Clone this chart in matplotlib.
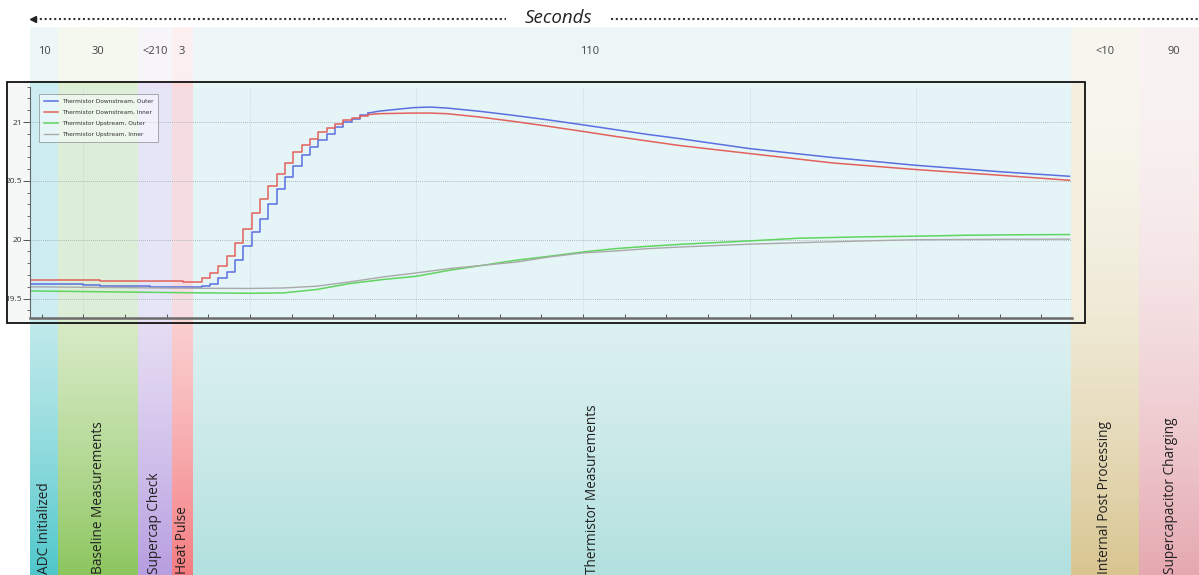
import numpy as np
import matplotlib.pyplot as plt
from matplotlib.patches import Rectangle
from matplotlib.ticker import MultipleLocator
from matplotlib.colors import to_rgb

plt.rcParams['font.family'] = ['Open Sans', 'DejaVu Sans']

# --- phases of one measurement cycle ---
phase_names = ['ADC Initialized', 'Baseline Measurements', 'Supercap Check', 'Heat Pulse',
               'Thermistor Measurements', 'Internal Post Processing', 'Supercapacitor Charging']
phase_secs = ['10', '30', '<210', '3', '110', '<10', '90']

# --- logged thermistor temperatures ---
# stepped part (baseline + heat pulse rise)
t_step = [-3.2, 0.0, 1.0, 4.0, 6.0, 6.6, 7.1, 7.6, 8.1, 8.6, 9.1, 9.6, 10.1, 10.6, 11.1,
          11.6, 12.1, 12.6, 13.1, 13.6, 14.1, 14.6, 15.1, 15.6, 16.1, 16.6, 17.1]
down_outer_step = [19.622, 19.618, 19.608, 19.600, 19.600, 19.598, 19.608, 19.628, 19.671,
                   19.727, 19.826, 19.945, 20.066, 20.180, 20.307, 20.435, 20.533, 20.624,
                   20.717, 20.788, 20.851, 20.902, 20.958, 21.000, 21.029, 21.057, 21.076]
down_inner_step = [19.662, 19.662, 19.652, 19.650, 19.645, 19.638, 19.679, 19.718, 19.775,
                   19.860, 19.976, 20.095, 20.231, 20.350, 20.454, 20.562, 20.655, 20.743,
                   20.808, 20.859, 20.913, 20.952, 20.986, 21.014, 21.037, 21.054, 21.063]
# slow decay after the peak
t_tail = [17.1, 17.8, 19.8, 20.8, 21.8, 23.8, 25.8, 27.8, 29.8, 31.8, 33.8, 35.8,
          40.0, 45.0, 50.0, 55.0, 59.2]
down_outer_tail = [21.076, 21.093, 21.122, 21.127, 21.119, 21.091, 21.057, 21.020, 20.980,
                   20.938, 20.896, 20.859, 20.774, 20.698, 20.632, 20.578, 20.539]
down_inner_tail = [21.063, 21.071, 21.076, 21.076, 21.071, 21.042, 21.006, 20.966, 20.924,
                   20.881, 20.840, 20.800, 20.732, 20.652, 20.596, 20.548, 20.505]
# upstream sensors
t_up = [-3.2, 1, 6, 10, 12, 14, 16, 18, 20, 22, 24, 26, 28, 30, 32, 34, 36, 40, 43, 47,
        50, 53, 56, 59.2]
up_outer = [19.565, 19.558, 19.550, 19.545, 19.548, 19.577, 19.628, 19.662, 19.690, 19.741,
            19.783, 19.826, 19.860, 19.896, 19.925, 19.945, 19.962, 19.990, 20.013, 20.025,
            20.030, 20.038, 20.042, 20.044]
up_inner = [19.600, 19.595, 19.588, 19.586, 19.590, 19.605, 19.642, 19.684, 19.718, 19.755,
            19.783, 19.810, 19.854, 19.888, 19.905, 19.925, 19.939, 19.962, 19.975, 19.990,
            20.000, 20.002, 20.004, 20.005]

# layout (pixels of the 1199x575 canvas)
W, H = 1199, 575
band_px = [30, 58, 138, 172, 193, 1071, 1139, 1199]
name_px = [44, 99, 155, 183, 593, 1105, 1171]
sec_px = [44, 98, 155, 182, 590, 1105, 1174]
band_top = ['#eff8f8', '#f6f9f0', '#f9f6fb', '#fdf0f0', '#eef7f8', '#f8f7ef', '#f9f3f3']
band_bot = ['#4fc7cb', '#8cc65e', '#b79ee0', '#f47c80', '#b1e0de', '#d8c590', '#e5a8b0']
RX0, RY0, RX1, RY1 = 7, 81.5, 1085, 322.5   # chart frame

fig = plt.figure(figsize=(W / 100, H / 100), dpi=100)
fig.patch.set_facecolor('white')

# background canvas in pixel coordinates
bg = fig.add_axes([0, 0, 1, 1], zorder=0)
bg.axis('off')

ramp = np.linspace(0, 1, 256) ** 2.0
white = np.ones(3)
for i in range(len(phase_names)):
    c0, c1 = np.array(to_rgb(band_top[i])), np.array(to_rgb(band_bot[i]))
    grad = c0[None, :] + (c1 - c0)[None, :] * ramp[:, None]
    x0, x1 = band_px[i], band_px[i + 1]
    bg.imshow(grad[:, None, :].repeat(2, axis=1), extent=(x0, x1, H, 27),
              aspect='auto', origin='upper', interpolation='bilinear', zorder=0)
    # the band as seen through the chart panel
    if x0 < RX1:
        inner = white + (c1 - white) * 0.3
        bg.add_patch(Rectangle((x0, RY0), min(x1, RX1) - x0, RY1 - RY0,
                               facecolor=inner, edgecolor='none', zorder=1))
    bg.text(name_px[i], H - 1, phase_names[i], rotation=90, ha='center', va='bottom',
            fontsize=9.8, color='#222222', zorder=3)
    bg.text(sec_px[i], 51, phase_secs[i], ha='center', va='center', fontsize=8,
            color='#444444', zorder=3)

# time arrow across the top
bg.plot([35, 506], [19, 19], ls=(0, (1, 1.3)), lw=1.5, color='#333333')
bg.plot([611, W], [19, 19], ls=(0, (1, 1.3)), lw=1.5, color='#333333')
bg.plot([33], [19], marker='<', ms=5, color='#222222')
bg.text(558, 18, 'Seconds', ha='center', va='center', fontsize=13.5, style='italic',
        color='#222222')

# left margin of the chart panel
bg.add_patch(Rectangle((RX0, RY0), 30 - RX0, RY1 - RY0, facecolor='#f6f8f8',
                       edgecolor='none', zorder=2))
bg.set_xlim(0, W)
bg.set_ylim(H, 0)

# chart of logged data
ax = fig.add_axes([30 / W, (H - 318) / H, 1042 / W, (318 - 86.7) / H], zorder=1)
ax.set_facecolor((0.86, 0.93, 1.0, 0.2))

blue, red, green, grey = '#5a6fe0', '#e2615c', '#5fd45f', '#a9a9a9'
ax.plot(t_step, down_outer_step, drawstyle='steps-post', color=blue, lw=1.1,
        label='Thermistor Downstream, Outer')
ax.plot(t_step, down_inner_step, drawstyle='steps-post', color=red, lw=1.1,
        label='Thermistor Downstream, Inner')
ax.plot(t_up, up_outer, color=green, lw=1.1, label='Thermistor Upstream, Outer')
ax.plot(t_up, up_inner, color=grey, lw=1.0, label='Thermistor Upstream, Inner')
ax.plot(t_tail, down_outer_tail, color=blue, lw=1.1)
ax.plot(t_tail, down_inner_tail, color=red, lw=1.1)

ax.set_xlim(-3.2, 59.35)
ax.set_ylim(19.335, 21.30)
ax.set_yticks([19.5, 20, 20.5, 21])
ax.set_yticklabels(['19.5', '20', '20.5', '21'])
ax.yaxis.set_minor_locator(MultipleLocator(0.1))
ax.xaxis.set_major_locator(MultipleLocator(10))
ax.xaxis.set_minor_locator(MultipleLocator(2.5))
ax.tick_params(axis='y', which='major', direction='out', length=5, width=0.7,
               color='#555555', labelsize=6, labelcolor='#333333', pad=1.0)
ax.tick_params(axis='y', which='minor', direction='out', length=2.5, width=0.6, color='#555555')
ax.tick_params(axis='x', which='both', direction='in', length=3, width=0.7,
               color='#555555', labelbottom=False)
ax.grid(axis='y', which='major', color='#9aa5a8', ls=(0, (1, 1.5)), lw=0.6)
ax.grid(axis='x', which='major', color='#c3d1d4', ls=(0, (1, 1.5)), lw=0.6)
for s in ['top', 'right']:
    ax.spines[s].set_visible(False)
ax.spines['left'].set_color('#666666')
ax.spines['left'].set_linewidth(0.8)
ax.spines['bottom'].set_color('#6b6b6b')
ax.spines['bottom'].set_linewidth(1.8)

leg = ax.legend(loc='upper left', bbox_to_anchor=(36 / W, 1 - 91 / H),
                bbox_transform=fig.transFigure, prop={'family': 'DejaVu Sans', 'size': 4.2},
                frameon=True, fancybox=False, edgecolor='#666666', framealpha=0.5,
                handlelength=2.3, labelspacing=1.0, borderpad=0.9, handletextpad=0.7,
                labelcolor='#333333')
leg.get_frame().set_linewidth(0.7)

# black frame round the chart
ax.add_patch(Rectangle((RX0, RY0), RX1 - RX0, RY1 - RY0, transform=bg.transData, fill=False,
                       edgecolor='#111111', lw=1.3, clip_on=False, zorder=5))

fig.savefig('out.png', dpi=100)
